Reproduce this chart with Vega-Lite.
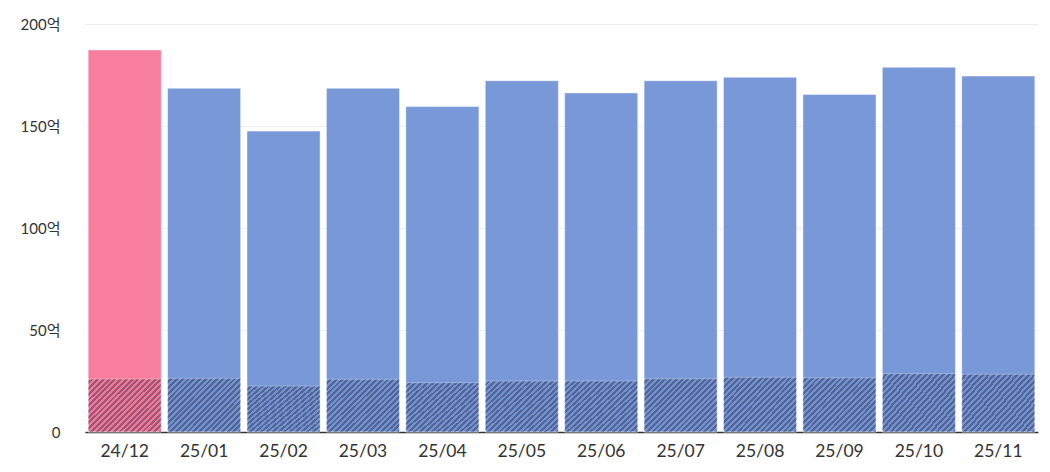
{
  "$schema": "https://vega.github.io/schema/vega-lite/v6.json",
  "width": 953,
  "height": 408,
  "autosize": {"type": "none"},
  "padding": {"left": 85, "top": 24, "right": 12, "bottom": 40},
  "background": "white",
  "config": {
    "view": {"stroke": null},
    "font": "Lato, Noto Sans CJK KR, sans-serif"
  },
  "data": {
    "values": [
      {"month": "24/12", "total": 187.3, "sub": 26.0, "kind": "prev"},
      {"month": "25/01", "total": 168.5, "sub": 26.3, "kind": "cur"},
      {"month": "25/02", "total": 147.5, "sub": 22.5, "kind": "cur"},
      {"month": "25/03", "total": 168.5, "sub": 25.8, "kind": "cur"},
      {"month": "25/04", "total": 159.5, "sub": 24.2, "kind": "cur"},
      {"month": "25/05", "total": 172.2, "sub": 25.0, "kind": "cur"},
      {"month": "25/06", "total": 166.2, "sub": 25.0, "kind": "cur"},
      {"month": "25/07", "total": 172.2, "sub": 26.1, "kind": "cur"},
      {"month": "25/08", "total": 173.9, "sub": 26.8, "kind": "cur"},
      {"month": "25/09", "total": 165.5, "sub": 26.6, "kind": "cur"},
      {"month": "25/10", "total": 178.8, "sub": 28.6, "kind": "cur"},
      {"month": "25/11", "total": 174.5, "sub": 28.3, "kind": "cur"}
    ]
  },
  "encoding": {
    "x": {
      "field": "month",
      "type": "nominal",
      "sort": null,
      "scale": {"paddingInner": 0.08, "paddingOuter": 0.04},
      "axis": {
        "title": null,
        "labelAngle": 0,
        "labelFont": "Lato, Noto Sans CJK KR, sans-serif",
        "labelFontSize": 17.5,
        "labelColor": "#333333",
        "labelPadding": 10,
        "ticks": false,
        "domainColor": "#333333",
        "domainWidth": 1.5,
        "grid": false
      }
    }
  },
  "layer": [
    {
      "mark": {"type": "bar", "stroke": "white", "strokeOpacity": 0.45, "strokeWidth": 1},
      "encoding": {
        "y": {
          "field": "total",
          "type": "quantitative",
          "scale": {"domain": [0, 200], "nice": false},
          "axis": {
            "title": null,
            "values": [0, 50, 100, 150, 200],
            "labelExpr": "datum.value == 0 ? '0' : datum.value + '억'",
            "labelFont": "Lato, Noto Sans CJK KR, sans-serif",
            "labelFontSize": 15,
            "labelColor": "#333333",
            "labelPadding": 25,
            "ticks": false,
            "domain": false,
            "gridColor": "#eeeeee",
            "gridWidth": 1
          }
        },
        "color": {
          "field": "kind",
          "type": "nominal",
          "scale": {"domain": ["prev", "cur"], "range": ["#f87e9e", "#7898d8"]},
          "legend": null
        }
      }
    },
    {
      "mark": {
        "type": "bar",
        "stroke": "white",
        "strokeOpacity": 0.3,
        "strokeWidth": 1,
        "fill": {
          "gradient": "linear",
          "x1": 0, "y1": 0, "x2": 1.128, "y2": 0.824,
          "stops": [
            {"offset": 0, "color": "rgba(0,0,0,0.04)"},
            {"offset": 0.0227, "color": "rgba(0,0,0,0.04)"},
            {"offset": 0.0227, "color": "rgba(30,30,60,0.42)"},
            {"offset": 0.0455, "color": "rgba(30,30,60,0.42)"},
            {"offset": 0.0455, "color": "rgba(0,0,0,0.04)"},
            {"offset": 0.0682, "color": "rgba(0,0,0,0.04)"},
            {"offset": 0.0682, "color": "rgba(30,30,60,0.42)"},
            {"offset": 0.0909, "color": "rgba(30,30,60,0.42)"},
            {"offset": 0.0909, "color": "rgba(0,0,0,0.04)"},
            {"offset": 0.1136, "color": "rgba(0,0,0,0.04)"},
            {"offset": 0.1136, "color": "rgba(30,30,60,0.42)"},
            {"offset": 0.1364, "color": "rgba(30,30,60,0.42)"},
            {"offset": 0.1364, "color": "rgba(0,0,0,0.04)"},
            {"offset": 0.1591, "color": "rgba(0,0,0,0.04)"},
            {"offset": 0.1591, "color": "rgba(30,30,60,0.42)"},
            {"offset": 0.1818, "color": "rgba(30,30,60,0.42)"},
            {"offset": 0.1818, "color": "rgba(0,0,0,0.04)"},
            {"offset": 0.2045, "color": "rgba(0,0,0,0.04)"},
            {"offset": 0.2045, "color": "rgba(30,30,60,0.42)"},
            {"offset": 0.2273, "color": "rgba(30,30,60,0.42)"},
            {"offset": 0.2273, "color": "rgba(0,0,0,0.04)"},
            {"offset": 0.25, "color": "rgba(0,0,0,0.04)"},
            {"offset": 0.25, "color": "rgba(30,30,60,0.42)"},
            {"offset": 0.2727, "color": "rgba(30,30,60,0.42)"},
            {"offset": 0.2727, "color": "rgba(0,0,0,0.04)"},
            {"offset": 0.2955, "color": "rgba(0,0,0,0.04)"},
            {"offset": 0.2955, "color": "rgba(30,30,60,0.42)"},
            {"offset": 0.3182, "color": "rgba(30,30,60,0.42)"},
            {"offset": 0.3182, "color": "rgba(0,0,0,0.04)"},
            {"offset": 0.3409, "color": "rgba(0,0,0,0.04)"},
            {"offset": 0.3409, "color": "rgba(30,30,60,0.42)"},
            {"offset": 0.3636, "color": "rgba(30,30,60,0.42)"},
            {"offset": 0.3636, "color": "rgba(0,0,0,0.04)"},
            {"offset": 0.3864, "color": "rgba(0,0,0,0.04)"},
            {"offset": 0.3864, "color": "rgba(30,30,60,0.42)"},
            {"offset": 0.4091, "color": "rgba(30,30,60,0.42)"},
            {"offset": 0.4091, "color": "rgba(0,0,0,0.04)"},
            {"offset": 0.4318, "color": "rgba(0,0,0,0.04)"},
            {"offset": 0.4318, "color": "rgba(30,30,60,0.42)"},
            {"offset": 0.4545, "color": "rgba(30,30,60,0.42)"},
            {"offset": 0.4545, "color": "rgba(0,0,0,0.04)"},
            {"offset": 0.4773, "color": "rgba(0,0,0,0.04)"},
            {"offset": 0.4773, "color": "rgba(30,30,60,0.42)"},
            {"offset": 0.5, "color": "rgba(30,30,60,0.42)"},
            {"offset": 0.5, "color": "rgba(0,0,0,0.04)"},
            {"offset": 0.5227, "color": "rgba(0,0,0,0.04)"},
            {"offset": 0.5227, "color": "rgba(30,30,60,0.42)"},
            {"offset": 0.5455, "color": "rgba(30,30,60,0.42)"},
            {"offset": 0.5455, "color": "rgba(0,0,0,0.04)"},
            {"offset": 0.5682, "color": "rgba(0,0,0,0.04)"},
            {"offset": 0.5682, "color": "rgba(30,30,60,0.42)"},
            {"offset": 0.5909, "color": "rgba(30,30,60,0.42)"},
            {"offset": 0.5909, "color": "rgba(0,0,0,0.04)"},
            {"offset": 0.6136, "color": "rgba(0,0,0,0.04)"},
            {"offset": 0.6136, "color": "rgba(30,30,60,0.42)"},
            {"offset": 0.6364, "color": "rgba(30,30,60,0.42)"},
            {"offset": 0.6364, "color": "rgba(0,0,0,0.04)"},
            {"offset": 0.6591, "color": "rgba(0,0,0,0.04)"},
            {"offset": 0.6591, "color": "rgba(30,30,60,0.42)"},
            {"offset": 0.6818, "color": "rgba(30,30,60,0.42)"},
            {"offset": 0.6818, "color": "rgba(0,0,0,0.04)"},
            {"offset": 0.7045, "color": "rgba(0,0,0,0.04)"},
            {"offset": 0.7045, "color": "rgba(30,30,60,0.42)"},
            {"offset": 0.7273, "color": "rgba(30,30,60,0.42)"},
            {"offset": 0.7273, "color": "rgba(0,0,0,0.04)"},
            {"offset": 0.75, "color": "rgba(0,0,0,0.04)"},
            {"offset": 0.75, "color": "rgba(30,30,60,0.42)"},
            {"offset": 0.7727, "color": "rgba(30,30,60,0.42)"},
            {"offset": 0.7727, "color": "rgba(0,0,0,0.04)"},
            {"offset": 0.7955, "color": "rgba(0,0,0,0.04)"},
            {"offset": 0.7955, "color": "rgba(30,30,60,0.42)"},
            {"offset": 0.8182, "color": "rgba(30,30,60,0.42)"},
            {"offset": 0.8182, "color": "rgba(0,0,0,0.04)"},
            {"offset": 0.8409, "color": "rgba(0,0,0,0.04)"},
            {"offset": 0.8409, "color": "rgba(30,30,60,0.42)"},
            {"offset": 0.8636, "color": "rgba(30,30,60,0.42)"},
            {"offset": 0.8636, "color": "rgba(0,0,0,0.04)"},
            {"offset": 0.8864, "color": "rgba(0,0,0,0.04)"},
            {"offset": 0.8864, "color": "rgba(30,30,60,0.42)"},
            {"offset": 0.9091, "color": "rgba(30,30,60,0.42)"},
            {"offset": 0.9091, "color": "rgba(0,0,0,0.04)"},
            {"offset": 0.9318, "color": "rgba(0,0,0,0.04)"},
            {"offset": 0.9318, "color": "rgba(30,30,60,0.42)"},
            {"offset": 0.9545, "color": "rgba(30,30,60,0.42)"},
            {"offset": 0.9545, "color": "rgba(0,0,0,0.04)"},
            {"offset": 0.9773, "color": "rgba(0,0,0,0.04)"},
            {"offset": 0.9773, "color": "rgba(30,30,60,0.42)"},
            {"offset": 1, "color": "rgba(30,30,60,0.42)"}
          ]
        }
      },
      "encoding": {
        "y": {"field": "sub", "type": "quantitative"}
      }
    }
  ]
}
